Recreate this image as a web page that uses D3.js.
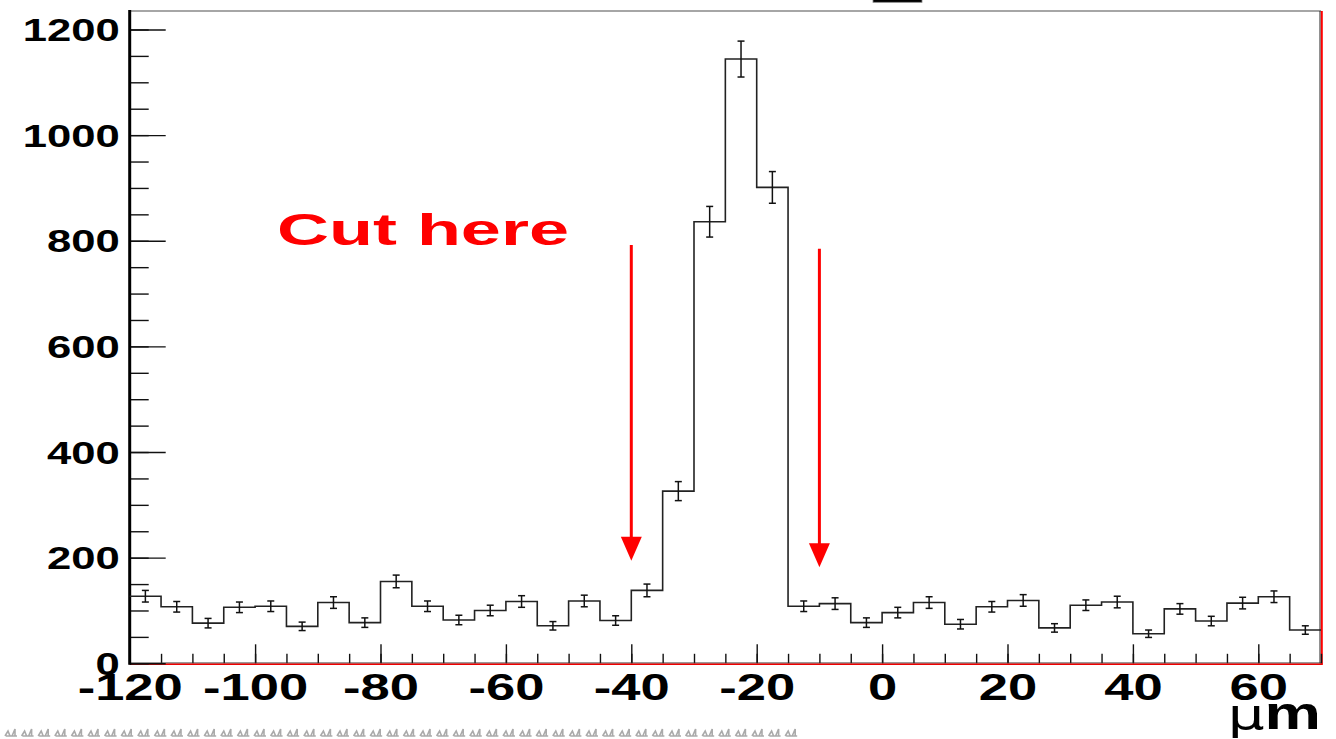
<!DOCTYPE html>
<html>
<head>
<meta charset="utf-8">
<script src="https://cdn.jsdelivr.net/npm/d3@7"></script>
<style>
  body { margin: 0; background: #fff; }
  svg { display: block; font-family: "Liberation Sans", Arial, sans-serif; }
</style>
</head>
<body>
<div id="chart"></div>
<script>
// bin lower edges (um), bin width 5
var binLow = [-120, -115, -110, -105, -100, -95, -90, -85, -80, -75, -70, -65, -60, -55, -50, -45, -40, -35, -30,
              -25, -20, -15, -10, -5, 0, 5, 10, 15, 20, 25, 30, 35, 40, 45, 50, 55, 60, 65];
var binWidth = 5;
var counts = [127, 107, 76, 106, 108, 70, 115, 77, 155, 108, 82, 100, 117, 71, 118, 81, 138, 326, 836,
              1144, 901, 108, 113, 77, 96, 115, 74, 107, 119, 67, 110, 116, 56, 103, 80, 114, 126, 63];
var errors = [11, 10, 9, 10, 10, 8, 11, 9, 12, 10, 9, 10, 11, 8, 11, 9, 12, 18, 29,
              34, 30, 10, 11, 9, 10, 11, 9, 10, 11, 8, 10, 11, 7, 10, 9, 11, 11, 8];
var xTicks = [-120, -100, -80, -60, -40, -20, 0, 20, 40, 60];
var yTicks = [0, 200, 400, 600, 800, 1000, 1200];
// cut arrows: position, top and tip (counts)
var cutX = [-40, -10];
var cutTop = [792, 785];
var cutTip = [194, 182];
var cutLabel = "Cut here";
var xUnit = "m";

var W = 1336, H = 739;
var pL = 129.7, pR = 1321, pT = 11, pB = 663.3;

var svg = d3.select("#chart").append("svg")
    .attr("width", W)
    .attr("height", H);

var x = d3.scaleLinear().domain([-120, 70]).range([pL, pR]);
var y = d3.scaleLinear().domain([0, 1235]).range([pB, pT]);

// little box at the very top (cut-off title)
svg.append("rect")
    .attr("x", 873).attr("y", -2).attr("width", 49).attr("height", 4.3)
    .attr("fill", "#000").attr("stroke", "#888").attr("stroke-width", 0.8);

// frame: top + right
svg.append("line").attr("x1", pL).attr("x2", pR).attr("y1", pT).attr("y2", pT)
    .attr("stroke", "#888").attr("stroke-width", 1.6);
svg.append("line").attr("x1", pR - 1).attr("x2", pR - 1).attr("y1", pT).attr("y2", pB)
    .attr("stroke", "#222").attr("stroke-width", 1);
svg.append("line").attr("x1", pR + 0.8).attr("x2", pR + 0.8).attr("y1", pT).attr("y2", pB + 1)
    .attr("stroke", "#f00").attr("stroke-width", 2);

// x axis
svg.append("g")
    .attr("transform", "translate(0," + pB + ")")
    .call(d3.axisBottom(x).tickValues(binLow.concat([70])).tickSizeInner(-9.5).tickSizeOuter(0).tickFormat(""));
var xMajor = svg.append("g")
    .attr("transform", "translate(0," + pB + ")")
    .call(d3.axisBottom(x).tickValues(xTicks).tickSizeInner(-19).tickSizeOuter(0).tickPadding(0)
      .tickFormat(function(d) { return String(d); }));
svg.selectAll(".domain").remove();
svg.selectAll(".tick line").attr("stroke", "#111").attr("stroke-width", 1.4);
xMajor.selectAll("text")
    .attr("y", 0).attr("dy", 0)
    .attr("transform", "translate(0,37) scale(1.42,1)")
    .attr("font-size", 37).attr("font-weight", "bold").attr("fill", "#000")
    .attr("text-anchor", "middle")
    .attr("font-family", "'Liberation Sans', Arial, sans-serif");

svg.append("line").attr("x1", pL).attr("x2", pR).attr("y1", pB - 0.3).attr("y2", pB - 0.3)
    .attr("stroke", "#333").attr("stroke-width", 1);
svg.append("line").attr("x1", pL).attr("x2", pR + 1.8).attr("y1", pB + 1).attr("y2", pB + 1)
    .attr("stroke", "#e00").attr("stroke-width", 1.4);

// y axis
var yMinorVals = d3.range(0, 1201, 50);
svg.append("g")
    .attr("transform", "translate(" + pL + ",0)")
    .call(d3.axisLeft(y).tickValues(yMinorVals).tickSizeInner(-19).tickSizeOuter(0).tickFormat(""));
var yMajor = svg.append("g")
    .attr("transform", "translate(" + pL + ",0)")
    .call(d3.axisLeft(y).tickValues(yTicks).tickSizeInner(-36).tickSizeOuter(0)
      .tickFormat(function(d) { return String(d); }));
svg.selectAll(".domain").remove();
svg.selectAll(".tick line").attr("stroke", "#111").attr("stroke-width", 1.4);
yMajor.selectAll("text")
    .attr("x", 0).attr("dy", 0)
    .attr("transform", "translate(-10,11) scale(1.43,1)")
    .attr("font-size", 30.5).attr("font-weight", "bold").attr("fill", "#000")
    .attr("text-anchor", "end")
    .attr("font-family", "'Liberation Sans', Arial, sans-serif");
svg.append("line").attr("x1", pL).attr("x2", pL).attr("y1", pT - 1).attr("y2", pB + 1.5)
    .attr("stroke", "#000").attr("stroke-width", 3);

// histogram outline
var pts = [];
binLow.forEach(function(b, i) {
  pts.push([x(b), y(counts[i])]);
  pts.push([x(b + binWidth), y(counts[i])]);
});
svg.append("path")
    .attr("d", d3.line()(pts))
    .attr("fill", "none")
    .attr("stroke", "#222")
    .attr("stroke-width", 1.6);

// error bars
var eb = svg.append("g").attr("stroke", "#111").attr("stroke-width", 1.5);
binLow.forEach(function(b, i) {
  var cx = x(b + binWidth / 2);
  var y0 = y(counts[i] - errors[i]), y1 = y(counts[i] + errors[i]);
  eb.append("line").attr("x1", cx).attr("x2", cx).attr("y1", y0).attr("y2", y1);
  eb.append("line").attr("x1", cx - 3.5).attr("x2", cx + 3.5).attr("y1", y0).attr("y2", y0);
  eb.append("line").attr("x1", cx - 3.5).attr("x2", cx + 3.5).attr("y1", y1).attr("y2", y1);
});

// cut arrows
cutX.forEach(function(c, i) {
  var cx = x(c), tip = y(cutTip[i]);
  svg.append("line")
      .attr("x1", cx).attr("x2", cx)
      .attr("y1", y(cutTop[i])).attr("y2", tip - 20)
      .attr("stroke", "#f00").attr("stroke-width", 3);
  svg.append("path")
      .attr("d", "M" + (cx - 10.5) + "," + (tip - 24) + "L" + (cx + 10.5) + "," + (tip - 24) + "L" + cx + "," + tip + "Z")
      .attr("fill", "#f00");
});

svg.append("text")
    .attr("transform", "translate(277,245) scale(1.6,1)")
    .attr("font-size", 45).attr("font-weight", "bold").attr("fill", "#f00")
    .text(cutLabel);

// x unit label
var unit = svg.append("text")
    .attr("transform", "translate(1321,729) scale(1.38,1)")
    .attr("text-anchor", "end")
    .attr("font-size", 46).attr("fill", "#000");
unit.append("tspan").attr("font-family", "'DejaVu Sans', sans-serif").attr("font-size", 42).text("\u03bc");
unit.append("tspan").attr("font-weight", "bold").text(xUnit);

// faint glyph row at the very bottom
var gl = svg.append("g").attr("stroke", "#aaa").attr("stroke-width", 1.6).attr("fill", "none");
d3.range(0, 48).forEach(function(k) {
  var gx = 5 + k * 16.6, gy = 728;
  gl.append("path").attr("d",
    "M" + gx + "," + (gy + 8) + "L" + (gx + 3) + "," + (gy + 3) +
    "L" + (gx + 5) + "," + (gy + 8) + "M" + (gx + 7) + "," + (gy + 8) +
    "L" + (gx + 10) + "," + (gy + 1) + "L" + (gx + 10) + "," + (gy + 8) +
    "M" + (gx + 1) + "," + (gy + 8) + "L" + (gx + 12) + "," + (gy + 8));
});
</script>
</body>
</html>
